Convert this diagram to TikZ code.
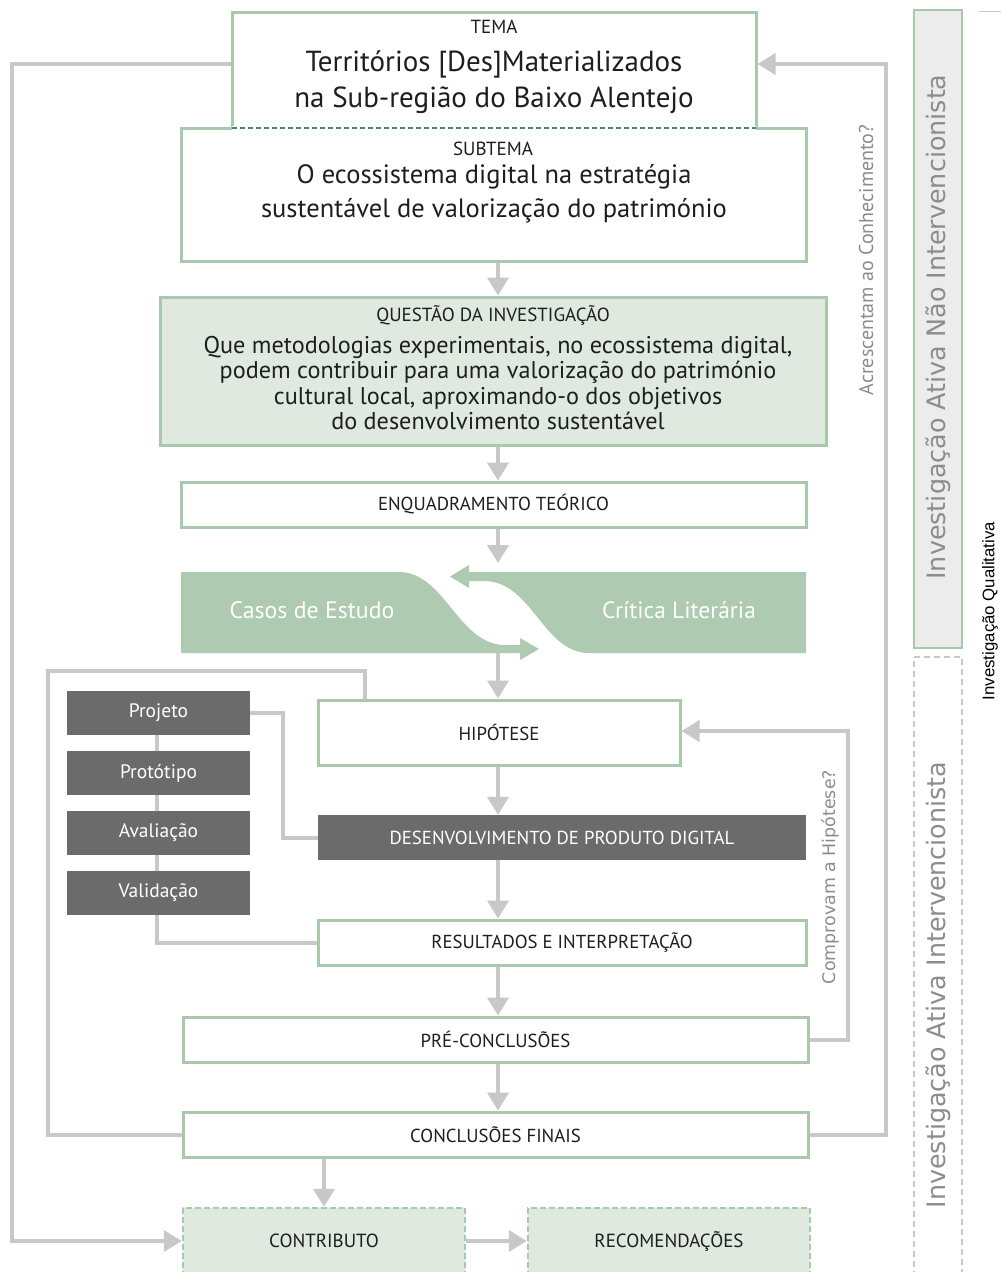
\documentclass[tikz,border=0pt]{standalone}
\usepackage{fontspec}
\setmainfont{PT Sans}
\newfontfamily\djv{DejaVu Sans}
\newfontfamily\lib{Liberation Sans}
\usetikzlibrary{arrows.meta}
\definecolor{grn}{RGB}{168,201,171}
\definecolor{lgfill}{RGB}{223,233,224}
\definecolor{casos}{RGB}{174,202,176}
\definecolor{dgray}{RGB}{108,107,107}
\definecolor{lgray}{RGB}{200,200,200}
\definecolor{txt}{RGB}{30,30,30}
\definecolor{sidetxt}{RGB}{140,140,140}
\definecolor{dblue}{RGB}{70,125,150}
\definecolor{panel}{RGB}{236,236,236}
\pgfdeclarelayer{bg}
\pgfsetlayers{bg,main}
\newcommand{\fsz}[2]{\fontsize{#1}{#2}\selectfont}
\begin{document}
\begin{tikzpicture}[x=1pt,y=-1pt,
  gbox/.style={draw=grn,line width=3pt,fill=white,inner sep=0pt,text=txt,font=\fsz{18.8}{22}},
  qbox/.style={draw=grn,line width=3pt,fill=lgfill,inner sep=0pt},
  dbox/.style={fill=dgray,inner sep=0pt,text=white,font=\fsz{18.8}{22}},
  sbox/.style={fill=dgray,inner sep=0pt,text=white,font=\fsz{19.5}{22}},
  cbox/.style={draw=grn,dash pattern=on 6pt off 3pt,line width=2.5pt,fill=lgfill,inner sep=0pt,text=txt,font=\fsz{19}{22}},
  lbl/.style={inner sep=0pt,text=txt},
  conn/.style={draw=lgray,line width=4pt,line join=miter},
  arr/.style={conn,-{Triangle[length=18pt,width=21pt]}},
]
\useasboundingbox (0,0) rectangle (1001,1272);
\begin{pgfonlayer}{bg}
\fill[white] (0,0) rectangle (1001,1272);
\end{pgfonlayer}

% ---- header boxes
\node[gbox,minimum width=625pt,minimum height=133pt] (subtema) at (493.5,194.5) {};
\node[gbox,minimum width=524pt,minimum height=116pt] (tema) at (494,70) {};
\draw[white,line width=3.5pt] (232,128) -- (756,128);
\draw[dblue,line width=1.1pt,dash pattern=on 5pt off 3pt] (232,128) -- (756,128);

\node[lbl,font=\fsz{19}{22}] (temat) at (494,27) {TEMA};
\node[lbl,font=\fsz{29}{36},align=center] (temab) at (494,82) {Territórios [Des]Materializados\\na Sub-região do Baixo Alentejo};
\node[lbl,font=\fsz{19}{22}] (subtemat) at (493,149) {SUBTEMA};
\node[lbl,font=\fsz{26.5}{34},align=center] (subtemab) at (494,194) {O ecossistema digital na estratégia\\sustentável de valorização do património};

\node[qbox,minimum width=666pt,minimum height=148pt] (questao) at (493,371) {};
\node[lbl,font=\fsz{19}{22}] (questaot) at (493,315) {QUESTÃO DA INVESTIGAÇÃO};
\node[lbl,font=\fsz{24.2}{25.5},align=center] (questaob) at (498,383) {Que metodologias experimentais, no ecossistema digital,\\podem contribuir para uma valorização do património\\cultural local, aproximando-o dos objetivos\\do desenvolvimento sustentável};

\node[gbox,minimum width=625pt,minimum height=45pt] (enq) at (493.5,504.5) {ENQUADRAMENTO TEÓRICO};

% ---- Casos / Critica shapes
\fill[casos] (181,572) -- (399,572) .. controls (445,572) and (458,645) .. (505,645) -- (520,645) -- (520,638) -- (539,649) -- (520,660) -- (520,653) -- (181,653) -- cycle;
\fill[casos] (806,572) -- (469,572) -- (469,565) -- (450,576.5) -- (469,588) -- (469,581) -- (484,581) .. controls (532,581) and (543,653) .. (589,653) -- (806,653) -- cycle;
\node[lbl,text=white,font=\fsz{23.8}{26}] (casost) at (312,610) {Casos de Estudo};
\node[lbl,text=white,font=\fsz{23.5}{26}] (critt) at (679,610) {Crítica Literária};
\coordinate (gaptop) at (498,563);
\coordinate (gapbot) at (498,652);

% ---- lower flow
\node[gbox,minimum width=362pt,minimum height=65pt] (hip) at (499,732.5) {HIPÓTESE};
\node[dbox,minimum width=488pt,minimum height=45pt] (desenv) at (562,837.5) {DESENVOLVIMENTO DE PRODUTO DIGITAL};
\node[gbox,minimum width=488pt,minimum height=45pt] (result) at (562,942.5) {RESULTADOS E INTERPRETAÇÃO};
\node[gbox,minimum width=625pt,minimum height=45pt] (pre) at (495.5,1039.5) {PRÉ-CONCLUSÕES};
\node[gbox,minimum width=625pt,minimum height=45pt] (concl) at (495.5,1134.5) {CONCLUSÕES FINAIS};
\node[cbox,minimum width=282pt,minimum height=66pt] (contrib) at (324,1241) {CONTRIBUTO};
\node[cbox,minimum width=282pt,minimum height=66pt] (recom) at (669,1241) {RECOMENDAÇÕES};

% ---- gray side boxes
\node[sbox,minimum width=183pt,minimum height=44pt] (projeto) at (158.5,713) {Projeto};
\node[sbox,minimum width=183pt,minimum height=44pt] (prototipo) at (158.5,773) {Protótipo};
\node[sbox,minimum width=183pt,minimum height=44pt] (avaliacao) at (158.5,833) {Avaliação};
\node[sbox,minimum width=183pt,minimum height=44pt] (validacao) at (158.5,893) {Validação};

% ---- right panels
\node[draw=grn,line width=2.5pt,fill=panel,minimum width=48pt,minimum height=638pt,inner sep=0pt] (panelA) at (938,329) {};
\node[lbl,rotate=90,text=sidetxt,font=\djv\fsz{25.4}{28}] (panelAt) at (938,327) {Investigação Ativa Não Intervencionista};
\node[draw=lgray,line width=1.5pt,dash pattern=on 6pt off 4pt,minimum width=48pt,minimum height=620pt,inner sep=0pt] (panelB) at (938,967) {};
\node[lbl,rotate=90,text=sidetxt,font=\djv\fsz{25.4}{28}] (panelBt) at (938,985) {Investigação Ativa Intervencionista};
\node[lbl,rotate=90,text=black,font=\lib\fsz{16.8}{19}] (qualit) at (990,611) {Investigação Qualitativa};
\coordinate (topA) at (979,11);
\coordinate (topB) at (1001,11);
\draw[lgray,line width=1pt] (topA) -- (topB);

% ---- loop labels
\node[lbl,rotate=90,text=sidetxt,font=\fsz{20}{23}] (acresc) at (866,260) {Acrescentam ao Conhecimento?};
\node[lbl,rotate=90,text=sidetxt,font=\djv\fsz{17.4}{20}] (comprov) at (830,877) {Comprovam a Hipótese?};

% ---- connectors
\begin{pgfonlayer}{bg}
\draw[arr] ([xshift=4.5pt]subtema.south) -- ([xshift=5pt]questao.north);
\draw[arr] ([xshift=5pt]questao.south) -- ([xshift=4.5pt]enq.north);
\draw[arr] ([xshift=4.5pt]enq.south) -- (gaptop);
\draw[arr] (gapbot) -- ([xshift=-1pt]hip.north);
\draw[arr] ([xshift=-1pt]hip.south) -- ([xshift=-64pt]desenv.north);
\draw[arr] ([xshift=-64pt]desenv.south) -- ([xshift=-64pt]result.north);
\draw[arr] ([xshift=-64pt]result.south) -- ([xshift=2.5pt]pre.north);
\draw[arr] ([xshift=2.5pt]pre.south) -- ([xshift=2.5pt]concl.north);
\draw[arr] ([xshift=-171.5pt]concl.south) -- (contrib.north);
\draw[arr] (contrib.east) -- (recom.west);
% outer left loop
\draw[arr] ([yshift=6pt]tema.west) -| (12,1241) -- (contrib.west);
% right loop to TEMA
\draw[arr] (concl.east) -| (886,64) -- ([yshift=6pt]tema.east);
% loop to hypothesis
\draw[arr] (pre.east) -| (848,731) -- ([yshift=1.5pt]hip.east);
% inner left loop
\draw[conn] (concl.west) -| (48,671) -| ([xshift=-134pt]hip.north);
% gray box chain
\draw[conn] (projeto.east) -| (283,837.5) -- (desenv.west);
\draw[conn] ([xshift=-1.5pt]projeto.south) -- ([xshift=-1.5pt]prototipo.north);
\draw[conn] ([xshift=-1.5pt]prototipo.south) -- ([xshift=-1.5pt]avaliacao.north);
\draw[conn] ([xshift=-1.5pt]avaliacao.south) -- ([xshift=-1.5pt]validacao.north);
\draw[conn] ([xshift=-1.5pt]validacao.south) |- (result.west);
\end{pgfonlayer}
\end{tikzpicture}
\end{document}
